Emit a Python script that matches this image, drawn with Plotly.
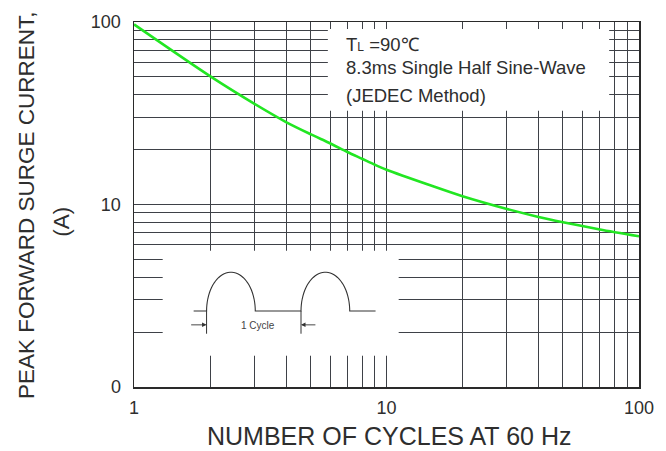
import numpy as np
import plotly.graph_objects as go

# ---------------- data ----------------
cycles = [1, 2, 3, 4, 5, 6, 7, 8, 9, 10, 15, 20, 30, 40, 50, 70, 100]
surge_current = [97, 50.5, 35.6, 28.3, 24.3, 21.6, 19.4, 17.8, 16.5, 15.5,
                 12.7, 11.1, 9.45, 8.55, 8.0, 7.3, 6.7]

grid_vals = [1, 2, 3, 4, 5, 6, 7, 8, 9, 10, 20, 30, 40, 50, 60, 70, 80, 90, 100]
x_tick_labels = {1: "1", 10: "10", 100: "100"}
y_tick_labels = {1: "0", 10: "10", 100: "100"}

note_lines = ["T<span style='font-size:12px'>L</span> =90\u2103",
              "8.3ms Single Half Sine-Wave",
              "(JEDEC Method)"]
x_title = "NUMBER OF CYCLES AT 60 Hz"
y_title_1 = "PEAK FORWARD SURGE CURRENT,"
y_title_2 = "(A)"
inset_label = "1 Cycle"

FONT = "Liberation Sans, Arial, sans-serif"
TXT = "#2e2e2e"
GRID = "#3e4147"

x_text = [x_tick_labels.get(v, "") for v in grid_vals]
y_text = [y_tick_labels.get(v, "") for v in grid_vals]

fig = go.Figure()
fig.add_trace(go.Scatter(
    x=cycles, y=surge_current, mode="lines", line_shape="spline",
    line=dict(color="#22e622", width=2.6, smoothing=0.8),
    hoverinfo="skip", showlegend=False))
# empty trace so the inset coordinate system exists
fig.add_trace(go.Scatter(x=[], y=[], xaxis="x2", yaxis="y2", showlegend=False))

common_axis = dict(
    type="log", range=[0, 2], showgrid=True, gridcolor=GRID, gridwidth=1,
    showline=True, linecolor="#2a2a2a", linewidth=1.5, mirror=True,
    ticks="", zeroline=False, tickfont=dict(family=FONT, size=18, color=TXT),
    tickmode="array", tickvals=grid_vals)

fig.update_layout(
    width=666, height=451,
    margin=dict(l=134, r=24, t=17, b=64),
    paper_bgcolor="white", plot_bgcolor="white",
    showlegend=False,
    xaxis=dict(common_axis, ticktext=x_text, ticklabelstandoff=4),
    yaxis=dict(common_axis, ticktext=y_text, ticklabelstandoff=8),
    xaxis2=dict(domain=[(163 - 134) / 508, (400 - 134) / 508], range=[163, 400],
                visible=False, anchor="y2", fixedrange=True),
    yaxis2=dict(domain=[(387 - 355) / 370, (387 - 250) / 370], range=[355, 250],
                visible=False, anchor="x2", fixedrange=True),
)

shapes = []
# white boxes covering the grid
shapes.append(dict(type="rect", xref="paper", yref="paper",
                   x0=(163 - 134) / 508, x1=(400 - 134) / 508,
                   y0=(387 - 355) / 370, y1=(387 - 249) / 370,
                   fillcolor="white", line=dict(width=0), layer="above"))
shapes.append(dict(type="rect", xref="paper", yref="paper",
                   x0=(329 - 134) / 508, x1=(612 - 134) / 508,
                   y0=(387 - 107) / 370, y1=(387 - 24) / 370,
                   fillcolor="white", line=dict(width=0), layer="above"))

# inset half-sine wave illustration (in inset coordinates)
base, peak = 310.0, 270.7
hump_starts = [207.0, 302.0]
hump_width = 49.0
wave_left, wave_right = 194.0, 377.0
t = np.linspace(0, np.pi, 40)
px, py = [wave_left], [base]
for s in hump_starts:
    cx, r = s + hump_width / 2, hump_width / 2
    px += list(cx - r * np.cos(t))
    py += list(base - (base - peak) * np.sin(t))
px.append(wave_right)
py.append(base)
path = "M " + " L ".join(f"{a:.2f} {b:.2f}" for a, b in zip(px, py))
shapes.append(dict(type="path", xref="x2", yref="y2", path=path,
                   line=dict(color="#333", width=1.1), layer="above"))
for s in hump_starts:
    shapes.append(dict(type="line", xref="x2", yref="y2", x0=s, x1=s,
                       y0=base, y1=333, line=dict(color="#333", width=1),
                       layer="above"))
fig.update_layout(shapes=shapes)

ann = []
for i, (txt, yp) in enumerate(zip(note_lines, [40, 63, 92])):
    ann.append(dict(xref="paper", yref="paper", x=(345 - 134) / 508,
                    y=(387 - yp) / 370, text=txt, showarrow=False,
                    xanchor="left", yanchor="middle",
                    font=dict(family=FONT, size=18.5, color=TXT)))
ann.append(dict(xref="paper", yref="paper", x=(391 - 134) / 508,
                y=(387 - 437) / 370, text=x_title, showarrow=False,
                xanchor="center", yanchor="middle",
                font=dict(family=FONT, size=25, color=TXT)))
ann.append(dict(xref="paper", yref="paper", x=(26 - 134) / 508,
                y=(387 - 203) / 370, text=y_title_1, showarrow=False,
                textangle=-90, xanchor="center", yanchor="middle",
                font=dict(family=FONT, size=22.5, color=TXT)))
ann.append(dict(xref="paper", yref="paper", x=(61 - 134) / 508,
                y=(387 - 219) / 370, text=y_title_2, showarrow=False,
                textangle=-90, xanchor="center", yanchor="middle",
                font=dict(family=FONT, size=22.5, color=TXT)))
ann.append(dict(xref="x2", yref="y2", x=259, y=325, text=inset_label,
                showarrow=False, xanchor="center", yanchor="middle",
                font=dict(family=FONT, size=10, color="#444")))
for tip, tail in [(hump_starts[0], 190), (hump_starts[1], 318)]:
    ann.append(dict(xref="x2", yref="y2", axref="x2", ayref="y2",
                    x=tip, y=324, ax=tail, ay=324, text="", showarrow=True,
                    arrowhead=2, arrowsize=1, arrowwidth=0.9,
                    arrowcolor="#333"))
fig.update_layout(annotations=ann)

fig.write_html("out.html",
               config={"displayModeBar": False, "staticPlot": True},
               post_script="document.body.style.margin='0';"
                           "document.body.style.overflow='hidden';")
